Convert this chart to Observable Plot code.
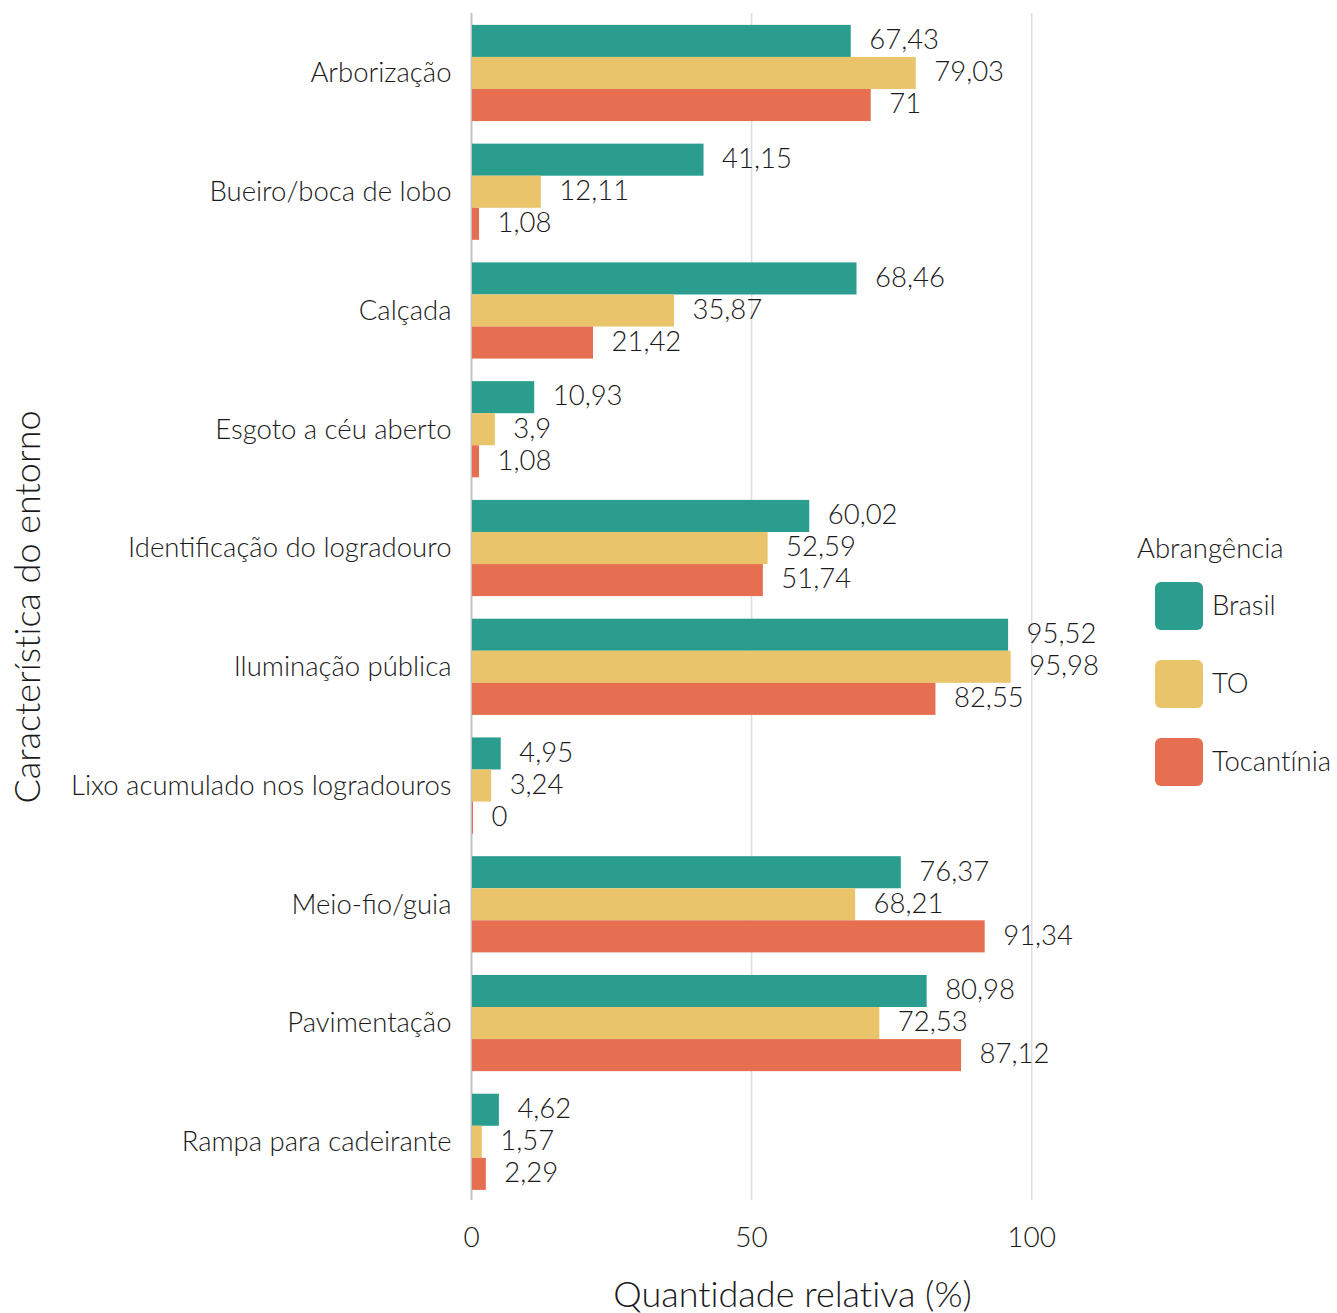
<!DOCTYPE html>
<html>
<head>
<meta charset="utf-8">
<script src="https://cdn.jsdelivr.net/npm/d3@7"></script>
<script src="https://cdn.jsdelivr.net/npm/@observablehq/plot@0.6"></script>
<style>
  html, body { margin: 0; padding: 0; background: #fff; }
  #wrap { position: relative; width: 1337px; height: 1313px; font-family: "Lato", sans-serif; font-weight: 300; color: #1a1a1a; font-variant-ligatures: none; }
  #wrap svg { font-variant-ligatures: none; }
  .legend { position: absolute; left: 1137px; top: 530px; }
  .legend .title { position: absolute; left: 0; top: 0; font-size: 27.5px; line-height: 36px; white-space: nowrap; }
  .legend .item { position: absolute; left: 18px; height: 48px; display: flex; align-items: center; white-space: nowrap; font-size: 27.5px; }
  .legend .item span { position: relative; top: -2px; }
  .legend .sw { width: 48px; height: 48px; border-radius: 6px; margin-right: 9px; }
</style>
</head>
<body>
<div id="wrap"></div>
<script>
const categories = [
  "Arborização",
  "Bueiro/boca de lobo",
  "Calçada",
  "Esgoto a céu aberto",
  "Identificação do logradouro",
  "Iluminação pública",
  "Lixo acumulado nos logradouros",
  "Meio-fio/guia",
  "Pavimentação",
  "Rampa para cadeirante"
];
const seriesNames = ["Brasil", "TO", "Tocantínia"];
const brasil     = [67.43, 41.15, 68.46, 10.93, 60.02, 95.52, 4.95, 76.37, 80.98, 4.62];
const to         = [79.03, 12.11, 35.87, 3.9, 52.59, 95.98, 3.24, 68.21, 72.53, 1.57];
const tocantinia = [71, 1.08, 21.42, 1.08, 51.74, 82.55, 0, 91.34, 87.12, 2.29];
const colors = ["#2A9D8F", "#E9C46A", "#E76F51"];
const xTicks = [0, 50, 100];

const seriesValues = [brasil, to, tocantinia];
const rows = [];
categories.forEach((c, i) => {
  seriesValues.forEach((vals, j) => {
    rows.push({category: c, i, j, series: seriesNames[j], value: vals[i]});
  });
});

const BAR = 0.27;
const y1 = d => d.i - 1.5 * BAR + d.j * BAR;
const y2 = d => y1(d) + BAR;
const yc = d => d.i + (d.j - 1) * BAR;
const fmt = v => String(v).replace(".", ",");
const TXT = "#1a1a1a";

const chart = Plot.plot({
  width: 1337,
  height: 1313,
  marginLeft: 471,
  marginRight: 224,
  marginTop: 13,
  marginBottom: 113,
  x: {domain: [0, 114.6]},
  y: {domain: [-0.505, 9.49], reverse: true},
  color: {domain: seriesNames, range: colors},
  style: {fontFamily: "Lato, sans-serif", fontSize: "27.5px", fontWeight: 300, color: TXT, background: "#fff", overflow: "visible"},
  marks: [
    Plot.ruleX([50, 100], {stroke: "#dedede", strokeWidth: 1.5}),
    Plot.ruleX([0], {stroke: "#c4c4c4", strokeWidth: 2}),
    Plot.rectX(rows, {x1: 0, x2: "value", y1, y2, fill: "series", insetLeft: 1, insetRight: -2}),
    Plot.text(rows, {x: "value", y: yc, text: d => fmt(d.value), dx: 20, dy: -1, textAnchor: "start", fontSize: 27.5, fill: TXT}),
    Plot.axisY({ticks: d3.range(categories.length), tickFormat: i => categories[i], tickSize: 0, tickPadding: 20, label: null, fontSize: 27.5}),
    Plot.axisX({ticks: xTicks, tickFormat: d => String(d), tickSize: 0, tickPadding: 27, label: null, fontSize: 28}),
    Plot.text(["Quantidade relativa (%)"], {frameAnchor: "bottom", dy: 95, lineAnchor: "middle", textAnchor: "middle", fontSize: 36, fill: TXT}),
    Plot.text(["Característica do entorno"], {frameAnchor: "left", dx: -443, rotate: -90, textAnchor: "middle", lineAnchor: "middle", fontSize: 36, fill: TXT})
  ]
});

const wrap = document.getElementById("wrap");
wrap.appendChild(chart);

const legend = document.createElement("div");
legend.className = "legend";
const t = document.createElement("div");
t.className = "title";
t.textContent = "Abrangência";
legend.appendChild(t);
seriesNames.forEach((s, k) => {
  const it = document.createElement("div");
  it.className = "item";
  it.style.top = (52 + k * 78) + "px";
  const sw = document.createElement("div");
  sw.className = "sw";
  sw.style.background = colors[k];
  const lb = document.createElement("span");
  lb.textContent = s;
  it.appendChild(sw);
  it.appendChild(lb);
  legend.appendChild(it);
});
wrap.appendChild(legend);
</script>
</body>
</html>
